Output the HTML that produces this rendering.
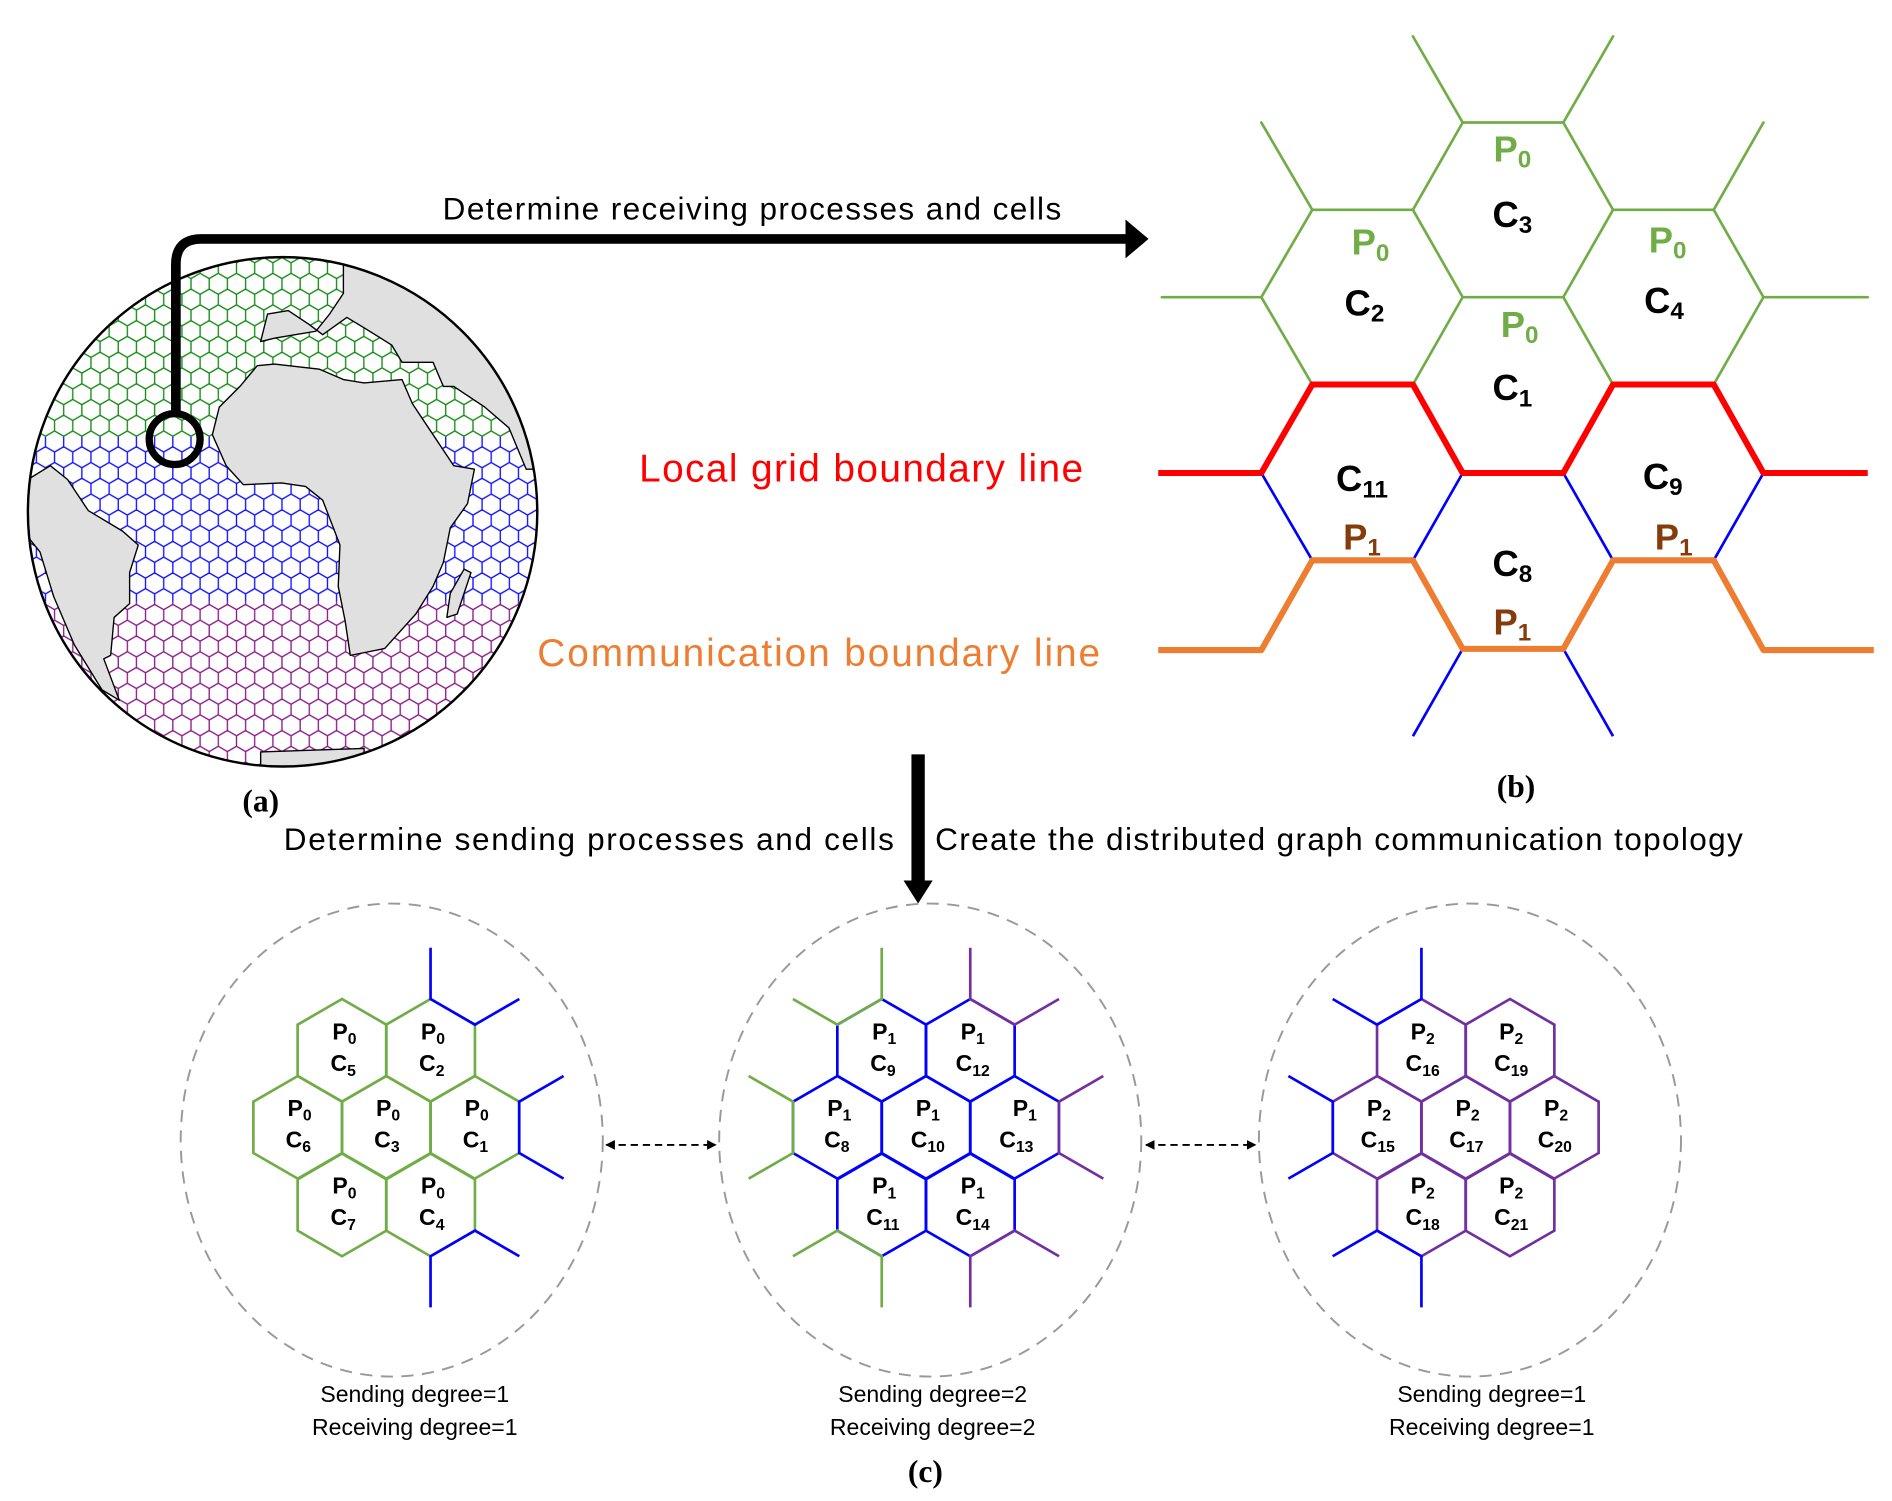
<!DOCTYPE html>
<html><head><meta charset="utf-8"><style>
html,body{margin:0;padding:0;background:#fff;}
svg{display:block;}
text{font-family:"Liberation Sans",Arial,sans-serif;}
.lb{font-weight:bold;font-size:30px;text-anchor:middle;}
.sb{font-weight:bold;font-size:19px;text-anchor:middle;}
</style></head><body>
<svg width="1892" height="1501" viewBox="0 0 1560 1237.6" xmlns="http://www.w3.org/2000/svg">
<defs>
<pattern id="pg" width="15" height="26" patternUnits="userSpaceOnUse">
<path d="M0,-8.66 l7.5,4.33 v8.66 l-7.5,4.33 l-7.5,-4.33 v-8.66z M15,-8.66 l7.5,4.33 v8.66 l-7.5,4.33 l-7.5,-4.33 v-8.66z M7.5,4.34 l7.5,4.33 v8.66 l-7.5,4.33 l-7.5,-4.33 v-8.66z M0,17.34 l7.5,4.33 v8.66 l-7.5,4.33 l-7.5,-4.33 v-8.66z M15,17.34 l7.5,4.33 v8.66 l-7.5,4.33 l-7.5,-4.33 v-8.66z" fill="none" stroke="#138a13" stroke-width="1.1"/>
</pattern>
<pattern id="pb" width="15" height="26" patternUnits="userSpaceOnUse">
<path d="M0,-8.66 l7.5,4.33 v8.66 l-7.5,4.33 l-7.5,-4.33 v-8.66z M15,-8.66 l7.5,4.33 v8.66 l-7.5,4.33 l-7.5,-4.33 v-8.66z M7.5,4.34 l7.5,4.33 v8.66 l-7.5,4.33 l-7.5,-4.33 v-8.66z M0,17.34 l7.5,4.33 v8.66 l-7.5,4.33 l-7.5,-4.33 v-8.66z M15,17.34 l7.5,4.33 v8.66 l-7.5,4.33 l-7.5,-4.33 v-8.66z" fill="none" stroke="#1010ff" stroke-width="1.1"/>
</pattern>
<pattern id="pp" width="15" height="26" patternUnits="userSpaceOnUse">
<path d="M0,-8.66 l7.5,4.33 v8.66 l-7.5,4.33 l-7.5,-4.33 v-8.66z M15,-8.66 l7.5,4.33 v8.66 l-7.5,4.33 l-7.5,-4.33 v-8.66z M7.5,4.34 l7.5,4.33 v8.66 l-7.5,4.33 l-7.5,-4.33 v-8.66z M0,17.34 l7.5,4.33 v8.66 l-7.5,4.33 l-7.5,-4.33 v-8.66z M15,17.34 l7.5,4.33 v8.66 l-7.5,4.33 l-7.5,-4.33 v-8.66z" fill="none" stroke="#8a1a8a" stroke-width="1.1"/>
</pattern>
<clipPath id="gc"><circle cx="233" cy="422" r="210"/></clipPath>
<path id="hx" d="M0,-42.3 L36.6,-21.15 L36.6,21.15 L0,42.3 L-36.6,21.15 L-36.6,-21.15Z" fill="none"/>
<marker id="ah" markerWidth="8" markerHeight="8" refX="7" refY="4" orient="auto-start-reverse" markerUnits="userSpaceOnUse"><path d="M0,0 L8,4 L0,8Z" fill="#000"/></marker>
</defs>

<!-- Globe -->
<g clip-path="url(#gc)">
<circle cx="233" cy="422" r="210" fill="#fff"/>
<rect x="20" y="200" width="430" height="160" fill="url(#pg)"/>
<rect x="20" y="360" width="430" height="136" fill="url(#pb)"/>
<rect x="20" y="496" width="430" height="150" fill="url(#pp)"/>
<g transform="translate(15.9,199.2) scale(0.2843)" fill="#e0e0e0" stroke="#000" stroke-width="4" stroke-linejoin="round">
<path d="M940,60 L1600,60 L1600,660 L1470,660 L1420,540 L1350,480 L1260,420 L1230,420 L1200,350 L1110,350 L1080,300 L1000,250 L950,220 L880,270 L840,240 L780,200 L720,210 L700,290 L740,280 L800,270 L860,260 L900,210 L940,150Z"/>
<path d="M560,560 L580,480 L640,420 L690,360 L740,355 L870,370 L940,400 L1000,410 L1110,400 L1140,470 L1200,560 L1260,650 L1320,660 L1300,760 L1250,830 L1230,930 L1200,1000 L1150,1080 L1060,1180 L960,1200 L945,1100 L925,1000 L930,880 L880,750 L830,710 L760,700 L650,705 L600,650Z"/>
<path d="M1290,950 L1310,960 L1270,1080 L1240,1090 L1250,1020Z"/>
<path d="M-20,690 L25,690 L90,650 L140,690 L200,780 L300,840 L345,880 L320,960 L320,1050 L275,1090 L265,1200 L245,1210 L290,1330 L240,1300 L160,1170 L100,1030 L60,900 L-20,800Z"/>
<path d="M700,1480 L1000,1470 L1000,1560 L700,1560Z"/>
</g>
</g>
<circle cx="233" cy="422" r="210" fill="none" stroke="#000" stroke-width="2"/>

<!-- zoom circle and arrow -->
<circle cx="144" cy="362" r="21" fill="none" stroke="#000" stroke-width="6"/>
<path d="M145,341 V218 Q145,197 166,197 H930" fill="none" stroke="#000" stroke-width="8"/>
<path d="M928,181 L947,197 L928,213Z" fill="#000"/>
<text x="365" y="181" font-size="26" textLength="510">Determine receiving processes and cells</text>

<!-- panel b -->
<g stroke="#70ad47" stroke-width="2.2" fill="none" stroke-linecap="round">
<path d="M1165,30 L1206,101 L1289,101 L1330,30 M1206,101 L1165,173 M1289,101 L1330,173 M1040,101 L1082,173 L1165,173 M1330,173 L1413,173 L1454,101 M1082,173 L1040,245 M1165,173 L1206,245 M1330,173 L1289,245 M1413,173 L1454,245 M958,245 L1040,245 M1454,245 L1540,245 M1206,245 L1289,245 M1040,245 L1082,317 M1206,245 L1165,317 M1289,245 L1330,317 M1454,245 L1413,317"/>
</g>
<g stroke="#0000ff" stroke-width="2.2" fill="none">
<path d="M1040,390 L1082,462 M1206,390 L1165,462 M1289,390 L1330,462 M1454,390 L1413,462 M1206,535 L1165,607 M1289,535 L1330,607"/>
</g>
<path d="M955,390 L1040,390 L1082,317 L1165,317 L1206,390 L1289,390 L1330,317 L1413,317 L1454,390 L1540,390" fill="none" stroke="#ff0000" stroke-width="5" stroke-linejoin="round"/>
<path d="M955,536 L1040,536 L1082,462 L1165,462 L1206,535 L1289,535 L1330,462 L1413,462 L1454,536 L1545,536" fill="none" stroke="#ed7d31" stroke-width="5" stroke-linejoin="round"/>
<g class="lb">
<text x="1247" y="133" fill="#70ad47" class="lb">P<tspan font-size="20" dy="5">0</tspan></text>
<text x="1247" y="187" class="lb">C<tspan font-size="20" dy="5">3</tspan></text>
<text x="1130" y="210" fill="#70ad47" class="lb">P<tspan font-size="20" dy="5">0</tspan></text>
<text x="1125" y="260" class="lb">C<tspan font-size="20" dy="5">2</tspan></text>
<text x="1375" y="208" fill="#70ad47" class="lb">P<tspan font-size="20" dy="5">0</tspan></text>
<text x="1372" y="258" class="lb">C<tspan font-size="20" dy="5">4</tspan></text>
<text x="1253" y="278" fill="#70ad47" class="lb">P<tspan font-size="20" dy="5">0</tspan></text>
<text x="1247" y="330" class="lb">C<tspan font-size="20" dy="5">1</tspan></text>
<text x="1123" y="405" class="lb">C<tspan font-size="20" dy="5">11</tspan></text>
<text x="1123" y="453" fill="#843c0c" class="lb">P<tspan font-size="20" dy="5">1</tspan></text>
<text x="1371" y="403" class="lb">C<tspan font-size="20" dy="5">9</tspan></text>
<text x="1380" y="453" fill="#843c0c" class="lb">P<tspan font-size="20" dy="5">1</tspan></text>
<text x="1247" y="475" class="lb">C<tspan font-size="20" dy="5">8</tspan></text>
<text x="1247" y="523" fill="#843c0c" class="lb">P<tspan font-size="20" dy="5">1</tspan></text>
</g>
<text x="527" y="397" font-size="32" fill="#ff0000" textLength="366">Local grid boundary line</text>
<text x="443" y="549" font-size="32" fill="#ed7d31" textLength="464">Communication boundary line</text>

<text x="215" y="669" font-family="Liberation Serif,serif" font-weight="bold" font-size="26" text-anchor="middle" style="font-family:'Liberation Serif',serif">(a)</text>
<text x="1250" y="657" font-weight="bold" font-size="26" text-anchor="middle" style="font-family:'Liberation Serif',serif">(b)</text>

<!-- down arrow -->
<path d="M757,622 V728" stroke="#000" stroke-width="11"/>
<path d="M745,726 L769,726 L757,745Z" fill="#000"/>
<text x="234" y="701" font-size="26" textLength="503">Determine sending  processes and cells</text>
<text x="771" y="701" font-size="26" textLength="666">Create the distributed graph communication topology</text>

<!-- ellipses -->
<g fill="none" stroke="#999" stroke-width="1.6" stroke-dasharray="10,7">
<ellipse cx="323" cy="940" rx="174" ry="195"/>
<ellipse cx="767" cy="940" rx="174" ry="195"/>
<ellipse cx="1212" cy="940" rx="174" ry="195"/>
</g>
<g stroke="#000" stroke-width="1.5" stroke-dasharray="6,4">
<line x1="500" y1="944" x2="590" y2="944" marker-start="url(#ah)" marker-end="url(#ah)"/>
<line x1="945" y1="944" x2="1035" y2="944" marker-start="url(#ah)" marker-end="url(#ah)"/>
</g>

<!-- left grid -->
<g stroke="#70ad47" stroke-width="2.2">
<use href="#hx" x="282" y="866"/><use href="#hx" x="355" y="866"/>
<use href="#hx" x="245.5" y="929.5"/><use href="#hx" x="318.5" y="929.5"/><use href="#hx" x="391.5" y="929.5"/>
<use href="#hx" x="282" y="993.5"/><use href="#hx" x="355" y="993.5"/>
</g>
<path d="M355,781.4 L355,823.7 L391.6,844.85 L428.2,823.7 M464.7,887.2 L428.1,908.35 L428.1,950.65 L464.7,971.8 M428.2,1035.8 L391.6,1014.65 L355,1035.8 L355,1078" fill="none" stroke="#0000ff" stroke-width="2.2"/>

<!-- middle grid -->
<g stroke="#0000ff" stroke-width="2.2">
<use href="#hx" x="727" y="866"/><use href="#hx" x="800" y="866"/>
<use href="#hx" x="690.5" y="929.5"/><use href="#hx" x="763.5" y="929.5"/><use href="#hx" x="836.5" y="929.5"/>
<use href="#hx" x="727" y="993.5"/><use href="#hx" x="800" y="993.5"/>
</g>
<path d="M727,781.4 L727,823.7 L690.4,844.85 L653.8,823.7 M617.3,887.2 L653.9,908.35 L653.9,950.65 L617.3,971.8 M653.8,1035.8 L690.4,1014.65 L727,1035.8 L727,1078" fill="none" stroke="#70ad47" stroke-width="2.2"/>
<path d="M800,781.4 L800,823.7 L836.6,844.85 L873.2,823.7 M909.7,887.2 L873.1,908.35 L873.1,950.65 L909.7,971.8 M873.2,1035.8 L836.6,1014.65 L800,1035.8 L800,1078" fill="none" stroke="#7030a0" stroke-width="2.2"/>

<!-- right grid -->
<g stroke="#7030a0" stroke-width="2.2">
<use href="#hx" x="1172" y="866"/><use href="#hx" x="1245" y="866"/>
<use href="#hx" x="1135.5" y="929.5"/><use href="#hx" x="1208.5" y="929.5"/><use href="#hx" x="1281.5" y="929.5"/>
<use href="#hx" x="1172" y="993.5"/><use href="#hx" x="1245" y="993.5"/>
</g>
<path d="M1172,781.4 L1172,823.7 L1135.4,844.85 L1098.8,823.7 M1062.3,887.2 L1098.9,908.35 L1098.9,950.65 L1062.3,971.8 M1098.8,1035.8 L1135.4,1014.65 L1172,1035.8 L1172,1078" fill="none" stroke="#0000ff" stroke-width="2.2"/>

<!-- small labels -->
<g class="sb">
<text class="sb" x="284" y="857">P<tspan font-size="13" dy="4">0</tspan></text><text class="sb" x="283" y="883">C<tspan font-size="13" dy="4">5</tspan></text>
<text class="sb" x="357" y="857">P<tspan font-size="13" dy="4">0</tspan></text><text class="sb" x="356" y="883">C<tspan font-size="13" dy="4">2</tspan></text>
<text class="sb" x="247" y="920">P<tspan font-size="13" dy="4">0</tspan></text><text class="sb" x="246" y="946">C<tspan font-size="13" dy="4">6</tspan></text>
<text class="sb" x="320" y="920">P<tspan font-size="13" dy="4">0</tspan></text><text class="sb" x="319" y="946">C<tspan font-size="13" dy="4">3</tspan></text>
<text class="sb" x="393" y="920">P<tspan font-size="13" dy="4">0</tspan></text><text class="sb" x="392" y="946">C<tspan font-size="13" dy="4">1</tspan></text>
<text class="sb" x="284" y="984">P<tspan font-size="13" dy="4">0</tspan></text><text class="sb" x="283" y="1010">C<tspan font-size="13" dy="4">7</tspan></text>
<text class="sb" x="357" y="984">P<tspan font-size="13" dy="4">0</tspan></text><text class="sb" x="356" y="1010">C<tspan font-size="13" dy="4">4</tspan></text>

<text class="sb" x="729" y="857">P<tspan font-size="13" dy="4">1</tspan></text><text class="sb" x="728" y="883">C<tspan font-size="13" dy="4">9</tspan></text>
<text class="sb" x="802" y="857">P<tspan font-size="13" dy="4">1</tspan></text><text class="sb" x="802" y="883">C<tspan font-size="13" dy="4">12</tspan></text>
<text class="sb" x="692" y="920">P<tspan font-size="13" dy="4">1</tspan></text><text class="sb" x="690" y="946">C<tspan font-size="13" dy="4">8</tspan></text>
<text class="sb" x="765" y="920">P<tspan font-size="13" dy="4">1</tspan></text><text class="sb" x="765" y="946">C<tspan font-size="13" dy="4">10</tspan></text>
<text class="sb" x="845" y="920">P<tspan font-size="13" dy="4">1</tspan></text><text class="sb" x="838" y="946">C<tspan font-size="13" dy="4">13</tspan></text>
<text class="sb" x="729" y="984">P<tspan font-size="13" dy="4">1</tspan></text><text class="sb" x="728" y="1010">C<tspan font-size="13" dy="4">11</tspan></text>
<text class="sb" x="802" y="984">P<tspan font-size="13" dy="4">1</tspan></text><text class="sb" x="802" y="1010">C<tspan font-size="13" dy="4">14</tspan></text>

<text class="sb" x="1173" y="857">P<tspan font-size="13" dy="4">2</tspan></text><text class="sb" x="1173" y="883">C<tspan font-size="13" dy="4">16</tspan></text>
<text class="sb" x="1246" y="857">P<tspan font-size="13" dy="4">2</tspan></text><text class="sb" x="1246" y="883">C<tspan font-size="13" dy="4">19</tspan></text>
<text class="sb" x="1137" y="920">P<tspan font-size="13" dy="4">2</tspan></text><text class="sb" x="1136" y="946">C<tspan font-size="13" dy="4">15</tspan></text>
<text class="sb" x="1210" y="920">P<tspan font-size="13" dy="4">2</tspan></text><text class="sb" x="1209" y="946">C<tspan font-size="13" dy="4">17</tspan></text>
<text class="sb" x="1283" y="920">P<tspan font-size="13" dy="4">2</tspan></text><text class="sb" x="1282" y="946">C<tspan font-size="13" dy="4">20</tspan></text>
<text class="sb" x="1173" y="984">P<tspan font-size="13" dy="4">2</tspan></text><text class="sb" x="1173" y="1010">C<tspan font-size="13" dy="4">18</tspan></text>
<text class="sb" x="1246" y="984">P<tspan font-size="13" dy="4">2</tspan></text><text class="sb" x="1246" y="1010">C<tspan font-size="13" dy="4">21</tspan></text>
</g>

<g font-size="19" text-anchor="middle">
<text x="342" y="1156">Sending degree=1</text><text x="342" y="1183">Receiving degree=1</text>
<text x="769" y="1156">Sending degree=2</text><text x="769" y="1183">Receiving degree=2</text>
<text x="1230" y="1156">Sending degree=1</text><text x="1230" y="1183">Receiving degree=1</text>
</g>
<text x="763" y="1222" font-weight="bold" font-size="26" text-anchor="middle" style="font-family:'Liberation Serif',serif">(c)</text>
</svg>
</body></html>
